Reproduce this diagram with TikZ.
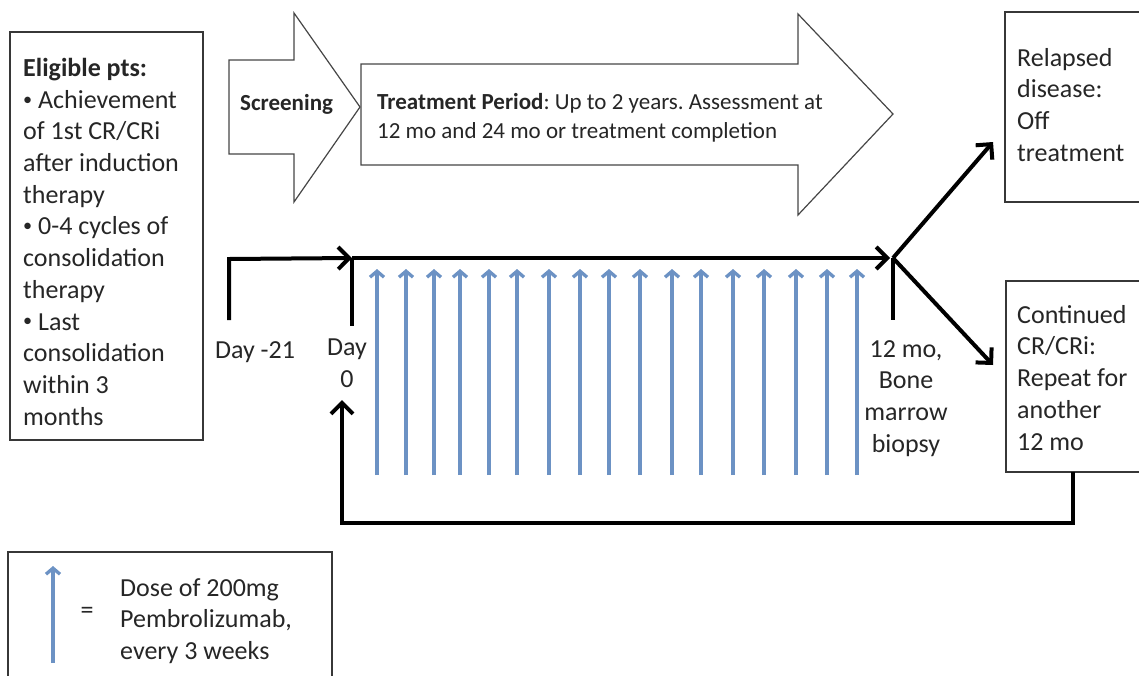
\documentclass[tikz,border=0pt]{standalone}
\usepackage{fontspec}
\setmainfont{Carlito}
\usetikzlibrary{arrows.meta}
\frenchspacing
\definecolor{doseblue}{RGB}{108,146,196}
\definecolor{boxgray}{RGB}{55,55,55}
\definecolor{shapegray}{RGB}{70,70,70}
\newcommand{\blt}{\raisebox{0.12em}{\scalebox{0.7}{•}}}
\begin{document}
\begin{tikzpicture}[x=1pt,y=-1pt,
  boxline/.style={draw=boxgray, line width=1.6pt},
  bigarrow/.style={draw=shapegray, line width=1.2pt, fill=white, line join=miter},
  txt/.style={font=\fontsize{26}{31.7}\selectfont, inner sep=0pt, align=left, text=black!85},
  smalltxt/.style={font=\fontsize{23}{29}\selectfont, inner sep=0pt, align=left, text=black!85},
  flow/.style={line width=4pt, -{Straight Barb[length=11pt,width=22pt]}},
  tickline/.style={line width=4pt},
  dose/.style={draw=doseblue, line width=3.3pt, -{Straight Barb[length=6pt,width=14pt]}}
]
\useasboundingbox (0,0) rectangle (1139,675);

% eligibility box
\draw[boxline] (10,32) rectangle (203,440);
\node[txt, anchor=north west] (elig) at (23,58) {\textbf{Eligible pts:}\\
\blt\ Achievement\\ of 1st CR/CRi\\ after induction\\ therapy\\
\blt\ 0-4 cycles of\\ consolidation\\ therapy\\
\blt\ Last\\ consolidation\\ within 3\\ months};

% big arrows
\draw[bigarrow] (229,60) -- (294,60) -- (294,13) -- (360,107) -- (294,202) -- (294,154) -- (229,154) -- cycle;
\node[smalltxt, anchor=west, font=\fontsize{23}{29}\selectfont\bfseries] (scr) at (240,104) {Screening};
\draw[bigarrow] (361,64) -- (798,64) -- (798,14) -- (893,114) -- (798,215) -- (798,165) -- (361,165) -- cycle;
\node[smalltxt, anchor=north west] (treat) at (377,93) {\textbf{Treatment Period}: Up to 2 years. Assessment at\\
12 mo and 24 mo or treatment completion};

% outcome boxes
\draw[boxline] (1140,12) -- (1005,12) -- (1005,202) -- (1140,202);
\node[txt, anchor=north west] (relapsed) at (1017,48) {Relapsed\\ disease:\\ Off\\ treatment};
\draw[boxline] (1140,281) -- (1006,281) -- (1006,472) -- (1140,472);
\node[txt, anchor=north west] (cont) at (1017,305) {Continued\\ CR/CRi:\\ Repeat for\\ another\\ 12 mo};

% timeline labels
\node[txt, anchor=north] (day21) at (255,341) {Day -21};
\node[txt, anchor=north, align=center] (day0) at (347,339) {Day\\ 0};
\node[txt, anchor=north, align=center] (mo12) at (906,340) {12 mo,\\ Bone\\ marrow\\ biopsy};

% timeline coordinates
\coordinate (d21b) at (229,320);
\coordinate (d21t) at (229,259);
\coordinate (d0t) at (352,258);
\coordinate (d0b) at (352,326);
\coordinate (split) at (893,258);
\coordinate (mainend) at (890,258);
\coordinate (splitb) at (893,320);
\coordinate (relin) at (993,142);
\coordinate (conin) at (993,365);
\coordinate (contbot) at (1073,472);
\coordinate (loopr) at (1073,523);
\coordinate (loopl) at (342,523);
\coordinate (loopend) at (342,400);

\draw[flow] (d21b) -- (d21t) -- (d0t);
\draw[tickline] (d0t) -- (d0b);
\draw[flow] (d0t) -- (mainend);
\draw[tickline] (split) -- (splitb);
\draw[flow] (split) -- (relin);
\draw[flow] (split) -- (conin);
\draw[flow, line join=miter] (contbot) -- (loopr) -- (loopl) -- (loopend);

% dose arrows
\foreach \x [count=\i] in {377,406,434,460,489,517,549,580,609,640,672,701,733,764,796,827,857}{
  \coordinate (db\i) at (\x,475);
  \coordinate (dt\i) at (\x,269);
  \draw[dose] (db\i) -- (dt\i);
}

% legend
\draw[boxline] (8,680) -- (8,552) -- (332,552) -- (332,680);
\coordinate (legb) at (53,663);
\coordinate (legt) at (53,566);
\draw[dose] (legb) -- (legt);
\node[txt, anchor=center] (eq) at (87,613) {=};
\node[txt, anchor=north west] (legtxt) at (120,578) {Dose of 200mg\\ Pembrolizumab,\\ every 3 weeks};
\end{tikzpicture}
\end{document}
